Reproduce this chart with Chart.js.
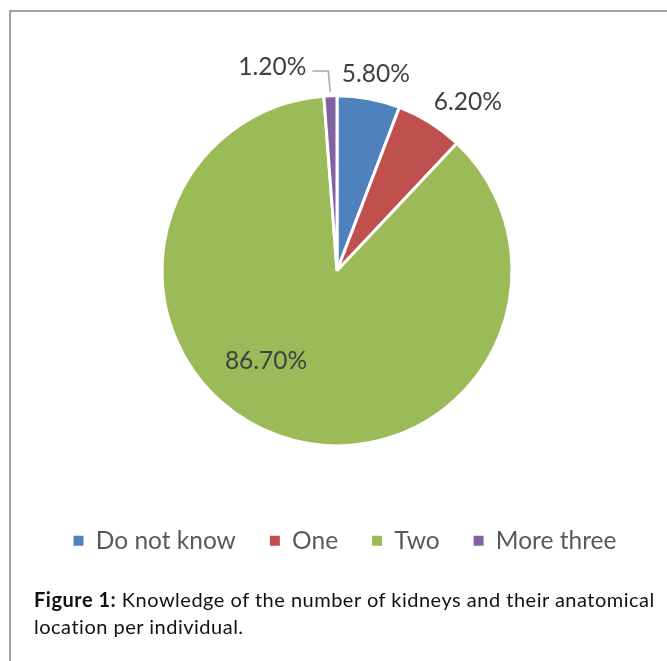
<!DOCTYPE html>
<html><head><meta charset="utf-8">
<script src="https://cdn.jsdelivr.net/npm/chart.js@4"></script>
<style>
html,body{margin:0;padding:0;background:#fff;}
#wrap{position:relative;width:667px;height:661px;overflow:hidden;font-family:Lato,sans-serif;}
#frame{position:absolute;left:9px;top:10px;width:700px;height:700px;border-left:2px solid #a0a0a0;border-top:2px solid #a0a0a0;box-sizing:border-box;}
#c{position:absolute;left:0;top:0;width:667px;height:600px;}
#cap{position:absolute;left:34px;top:586px;font-size:20px;letter-spacing:0.5px;line-height:27px;color:#111;white-space:nowrap;}
</style></head><body>
<div id="wrap"><div id="frame"></div><canvas id="c" width="667" height="600"></canvas>
<div id="cap"><b>Figure 1:</b> Knowledge of the number of kidneys and their anatomical<br>location per individual.</div></div>
<script>
const categories = ['Do not know', 'One', 'Two', 'More three'];
const percentages = [5.8, 6.2, 86.7, 1.2];
const sliceColors = ['#4F81BD', '#C0504D', '#9BBB59', '#8064A2'];

const pieLabels = {
  id: 'pieLabels',
  afterLayout(chart, args, opts) {
    const lg = chart.legend;
    if (lg) {
      lg.left += opts.legendShift[0]; lg.right += opts.legendShift[0];
      lg.top += opts.legendShift[1]; lg.bottom += opts.legendShift[1];
    }
  },
  afterDatasetsDraw(chart, args, opts) {
    const ctx = chart.ctx;
    const meta = chart.getDatasetMeta(0);
    const values = chart.data.datasets[0].data;
    ctx.save();
    ctx.font = opts.font;
    ctx.fillStyle = opts.color;
    ctx.textAlign = 'center';
    ctx.textBaseline = 'middle';
    meta.data.forEach((arc, i) => {
      const p = arc.getProps(['x', 'y', 'startAngle', 'endAngle', 'outerRadius'], true);
      const mid = (p.startAngle + p.endAngle) / 2;
      const k = opts.radial[i], off = opts.offset[i];
      const lx = p.x + Math.cos(mid) * p.outerRadius * k + off[0];
      const ly = p.y + Math.sin(mid) * p.outerRadius * k + off[1];
      const txt = values[i].toFixed(2) + '%';
      ctx.fillText(txt, lx, ly);
      if (opts.leader[i]) {
        const w = ctx.measureText(txt).width;
        const ax = p.x + Math.cos(mid) * (p.outerRadius + 4);
        const ay = p.y + Math.sin(mid) * (p.outerRadius + 4);
        ctx.beginPath();
        ctx.moveTo(lx + w / 2 + 6, ly + 4);
        ctx.lineTo(ax - 2, ly + 4);
        ctx.lineTo(ax, ay);
        ctx.strokeStyle = '#a6a6a6';
        ctx.lineWidth = 1.5;
        ctx.stroke();
      }
    });
    ctx.restore();
  }
};

new Chart(document.getElementById('c'), {
  type: 'pie',
  data: {
    labels: categories,
    datasets: [{
      data: percentages,
      backgroundColor: sliceColors,
      borderColor: '#ffffff',
      borderWidth: 3,
      radius: 175
    }]
  },
  options: {
    responsive: false,
    devicePixelRatio: 1,
    animation: false,
    events: [],
    layout: { padding: { top: 49, bottom: 39, left: 7, right: 0 } },
    plugins: {
      tooltip: { enabled: false },
      legend: {
        position: 'bottom',
        labels: {
          boxWidth: 10, boxHeight: 10, padding: 34,
          color: '#595959',
          font: { family: 'Lato', size: 24.5 },
          generateLabels(chart) {
            const items = Chart.overrides.pie.plugins.legend.labels.generateLabels(chart);
            items.forEach(it => { it.lineWidth = 0; it.strokeStyle = 'rgba(0,0,0,0)'; });
            return items;
          }
        }
      },
      pieLabels: {
        font: '24.5px Lato',
        color: '#404040',
        radial: [1.16, 1.16, 0.6, 1.16],
        offset: [[2, 3], [23, 3], [-36, -9], [-57, -1]],
        leader: [false, false, false, true],
        legendShift: [8, 2]
      }
    }
  },
  plugins: [pieLabels]
});
</script>
</body></html>
